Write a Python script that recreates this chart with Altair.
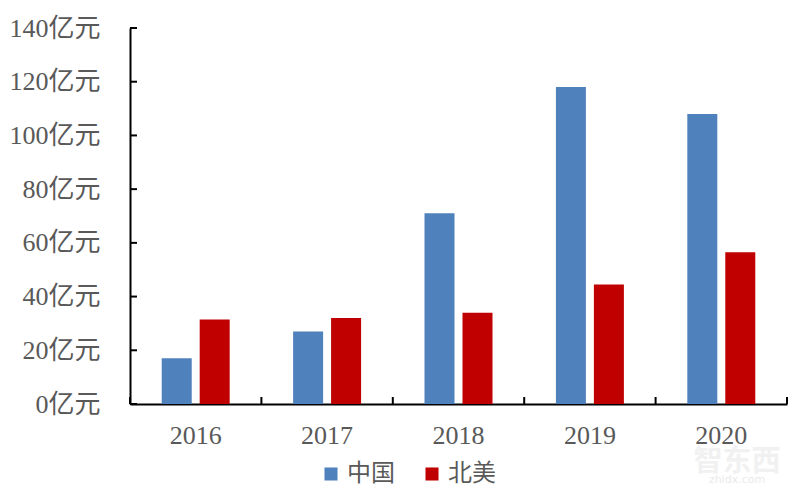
import altair as alt
import pandas as pd

years = ["2016", "2017", "2018", "2019", "2020"]
china = [17, 27, 71, 118, 108]
north_america = [31.5, 32, 34, 44.5, 56.5]
y_ticks = [0, 20, 40, 60, 80, 100, 120, 140]
series_names = ["中国", "北美"]
colors = ["#4F81BD", "#C00000"]
watermark = ["智东西"]
watermark_url = ["zhidx.com"]

source = pd.DataFrame({
    "year": years * 2,
    "value": china + north_america,
    "series": [series_names[0]] * 5 + [series_names[1]] * 5,
})

serif = "Liberation Serif, Noto Sans CJK SC"
grey = "#595959"

bars = alt.Chart(source).mark_bar(size=30).encode(
    x=alt.X("year:N", title=None, sort=years, scale=alt.Scale(paddingInner=0, paddingOuter=0),
            axis=alt.Axis(labelAngle=0, labelFont=serif, labelFontSize=26, labelColor=grey,
                          labelPadding=18, domainColor="#000000", domainWidth=2, ticks=False)),
    xOffset=alt.XOffset("series:N", sort=series_names, scale=alt.Scale(paddingInner=0.2, paddingOuter=0.83)),
    y=alt.Y("value:Q", title=None, scale=alt.Scale(domain=[0, 140]),
            axis=alt.Axis(values=y_ticks, grid=False, labelExpr="datum.value + '亿元'",
                          labelFont=serif, labelFontSize=26, labelColor=grey, labelPadding=30,
                          domainColor="#000000", domainWidth=2, ticks=False)),
    color=alt.Color("series:N", sort=series_names,
                    scale=alt.Scale(domain=series_names, range=colors),
                    legend=alt.Legend(orient="none", legendX=189, legendY=434, direction="horizontal",
                                      title=None, symbolType="square", symbolSize=170,
                                      symbolStrokeWidth=0, labelOffset=4,
                                      labelFont=serif, labelFontSize=24, labelColor=grey,
                                      columnPadding=25)),
)

# ticks point inward in the reference, so draw them as rules
y_tick_marks = alt.Chart(pd.DataFrame({"tick": y_ticks})).mark_rule(color="#000000", strokeWidth=2).encode(
    y="tick:Q", x=alt.value(0), x2=alt.value(7)
)
x_tick_marks = alt.Chart(pd.DataFrame({"year": years})).mark_rule(color="#000000", strokeWidth=2).encode(
    x=alt.X("year:N", sort=years, bandPosition=0), y=alt.value(369), y2=alt.value(376)
)
x_tick_last = alt.Chart(pd.DataFrame({"year": years[-1:]})).mark_rule(color="#000000", strokeWidth=2).encode(
    x=alt.X("year:N", sort=years, bandPosition=1), y=alt.value(369), y2=alt.value(376)
)

# faint site watermark, bottom right
mark_cn = alt.Chart(pd.DataFrame({"t": watermark})).mark_text(
    font="Noto Sans CJK SC", fontSize=29, color="#F1F1F1", fontWeight="bold", align="center", baseline="middle"
).encode(text="t:N", x=alt.value(607), y=alt.value(434))
mark_url = alt.Chart(pd.DataFrame({"t": watermark_url})).mark_text(
    font="DejaVu Sans", fontSize=11, color="#EAEAEA", align="center", baseline="middle"
).encode(text="t:N", x=alt.value(607), y=alt.value(452))

chart = alt.layer(bars, y_tick_marks, x_tick_marks, x_tick_last, mark_cn, mark_url).properties(
    width=657, height=376, padding={"left": 0, "top": 7, "right": 0, "bottom": 0}
).configure_view(stroke=None)

chart.save("out.html", embed_options={"renderer": "svg", "actions": False})
